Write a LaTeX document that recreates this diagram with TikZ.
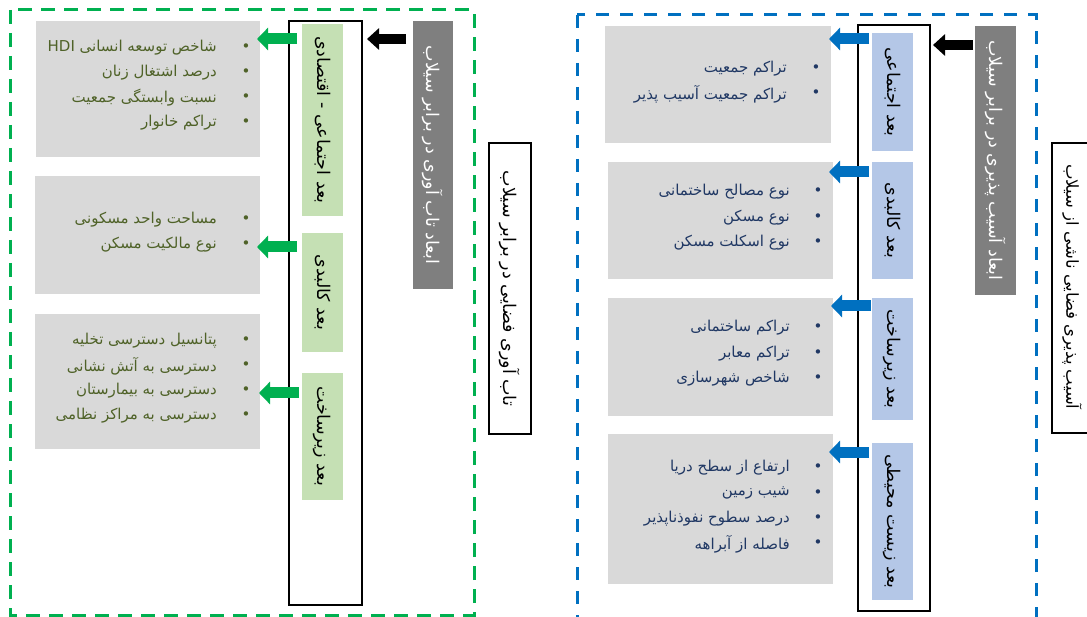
\documentclass[tikz,border=0pt]{standalone}
\usepackage{fontspec}
\usetikzlibrary{arrows.meta,fit}
\TeXXeTstate=1
\newfontfamily\arfont[Script=Arabic]{DejaVu Sans}
\newcommand{\fa}[1]{\beginR #1\endR}
\definecolor{dgreen}{HTML}{00B050}
\definecolor{dblue}{HTML}{0070C0}
\definecolor{boxgrey}{HTML}{D9D9D9}
\definecolor{titlegrey}{HTML}{7F7F7F}
\definecolor{lgreen}{HTML}{C5E0B4}
\definecolor{lblue}{HTML}{B4C7E7}
\definecolor{tgreen}{HTML}{4F6228}
\definecolor{tblue}{HTML}{203864}
\tikzset{
  txt/.style={font=\arfont\fontsize{15}{17}\selectfont, inner sep=0pt},
  item/.style={txt, anchor=east},
  bul/.style={txt, anchor=center},
  rotlab/.style={font=\arfont\fontsize{17.5}{20}\selectfont, inner sep=0pt, rotate=-90, anchor=center},
  contentbox/.style={fill=boxgrey, draw=none, inner sep=0pt},
  gbox/.style={fill=lgreen, draw=none, inner sep=0pt},
  bbox/.style={fill=lblue, draw=none, inner sep=0pt},
  titlebox/.style={fill=titlegrey, draw=none, inner sep=0pt},
  tallbox/.style={draw=black, line width=2pt, inner sep=0pt},
  mainbox/.style={draw=black, line width=1.2pt, inner sep=0pt},
  fatarrow/.style={line width=11pt, -{Triangle[length=11pt,width=22pt]}},
  garrow/.style={fatarrow, draw=dgreen},
  barrow/.style={fatarrow, draw=dblue},
  karrow/.style={fatarrow, draw=black, line width=10pt, -{Triangle[length=12pt,width=21pt]}},
  gdash/.style={draw=dgreen, line width=3pt, dash pattern=on 14pt off 9pt},
  bdash/.style={draw=dblue, line width=3pt, dash pattern=on 13pt off 11pt},
}
\begin{document}
\begin{tikzpicture}[x=1pt,y=-1pt]
\useasboundingbox (0,0) rectangle (1087,617);
\clip (0,0) rectangle (1087,617);

% ================= LEFT PANEL (resilience) =================
\draw[gdash] (10,10) rectangle (474,615);

\node[contentbox, fit={(36,21) (260,157)}] (lc1) {};
\node[contentbox, fit={(35,176) (260,294)}] (lc2) {};
\node[contentbox, fit={(35,314) (260,449)}] (lc3) {};

\node[tallbox, fit={(289,21) (362,605)}] (lt) {};
\node[gbox, fit={(302,24) (343,216)}] (lg1) {};
\node[gbox, fit={(302,233) (343,352)}] (lg2) {};
\node[gbox, fit={(302,373) (343,500)}] (lg3) {};
\node[rotlab] (lg1t) at (lg1.center) {\fa{بعد اجتماعی - اقتصادی}};
\node[rotlab] (lg2t) at (lg2.center) {\fa{بعد کالبدی}};
\node[rotlab] (lg3t) at (lg3.center) {\fa{بعد زیرساخت}};

\node[titlebox, fit={(413,21) (453,289)}] (ltitle) {};
\node[rotlab, text=white] (ltitlet) at (ltitle.center) {\fa{ابعاد تاب آوری در برابر سیلاب}};

\node[mainbox, fit={(489,143) (531,434)}] (lmain) {};
\node[rotlab] (lmaint) at (lmain.center) {\fa{تاب آوری فضایی در برابر سیلاب}};

\foreach \t [count=\i, evaluate=\i as \yy using 48+25*(\i-1)] in
  {{شاخص توسعه انسانی \beginL HDI\endL}, {درصد اشتغال زنان}, {نسبت وابستگی جمعیت}, {تراکم خانوار}} {
  \node[item, text=tgreen] (la\i) at (217,\yy) {\fa{\t}};
  \node[bul, text=tgreen] (lab\i) at (246,\yy) {•};
}
\foreach \t [count=\i, evaluate=\i as \yy using 220+25*(\i-1)] in
  {{مساحت واحد مسکونی}, {نوع مالکیت مسکن}} {
  \node[item, text=tgreen] (lb\i) at (217,\yy) {\fa{\t}};
  \node[bul, text=tgreen] (lbb\i) at (246,\yy) {•};
}
\foreach \t [count=\i, evaluate=\i as \yy using 341+25*(\i-1)] in
  {{پتانسیل دسترسی تخلیه}, {دسترسی به آتش نشانی}, {دسترسی به بیمارستان}, {دسترسی به مراکز نظامی}} {
  \node[item, text=tgreen] (lcc\i) at (217,\yy) {\fa{\t}};
  \node[bul, text=tgreen] (lcb\i) at (246,\yy) {•};
}

\coordinate (lk1) at (406,39); \coordinate (lk2) at (367,39);
\draw[karrow] (lk1) -- (lk2);
\coordinate (lg1s) at (297,39);  \coordinate (lg1e) at (257,39);
\coordinate (lg2s) at (297,247); \coordinate (lg2e) at (257,247);
\coordinate (lg3s) at (299,393); \coordinate (lg3e) at (259,393);
\draw[garrow] (lg1s) -- (lg1e);
\draw[garrow] (lg2s) -- (lg2e);
\draw[garrow] (lg3s) -- (lg3e);

% ================= RIGHT PANEL (vulnerability) =================
\draw[bdash] (577,15) rectangle (1036,640);

\node[contentbox, fit={(605,26) (831,143)}] (rc1) {};
\node[contentbox, fit={(608,162) (833,279)}] (rc2) {};
\node[contentbox, fit={(608,298) (833,416)}] (rc3) {};
\node[contentbox, fit={(608,434) (833,584)}] (rc4) {};

\node[tallbox, fit={(858,25) (930,611)}] (rt) {};
\node[bbox, fit={(872,33) (913,151)}] (rb1) {};
\node[bbox, fit={(872,162) (913,279)}] (rb2) {};
\node[bbox, fit={(872,298) (913,420)}] (rb3) {};
\node[bbox, fit={(872,443) (913,600)}] (rb4) {};
\node[rotlab] (rb1t) at (rb1.center) {\fa{بعد اجتماعی}};
\node[rotlab] (rb2t) at (rb2.center) {\fa{بعد کالبدی}};
\node[rotlab] (rb3t) at (rb3.center) {\fa{بعد زیرساخت}};
\node[rotlab] (rb4t) at (rb4.center) {\fa{بعد زیست محیطی}};

\node[titlebox, fit={(975,26) (1016,295)}] (rtitle) {};
\node[rotlab, text=white] (rtitlet) at (rtitle.center) {\fa{ابعاد آسیب پذیری در برابر سیلاب}};

\node[mainbox, fit={(1052,143) (1094,433)}] (rmain) {};
\node[rotlab, font=\arfont\fontsize{16.5}{19}\selectfont] (rmaint) at (1072,287) {\fa{آسیب پذیری فضایی ناشی از سیلاب}};

\foreach \t [count=\i, evaluate=\i as \yy using 69+25*(\i-1)] in
  {{تراکم جمعیت}, {تراکم جمعیت آسیب پذیر}} {
  \node[item, text=tblue] (ra\i) at (787,\yy) {\fa{\t}};
  \node[bul, text=tblue] (rab\i) at (816,\yy) {•};
}
\foreach \t [count=\i, evaluate=\i as \yy using 192+25.5*(\i-1)] in
  {{نوع مصالح ساختمانی}, {نوع مسکن}, {نوع اسکلت مسکن}} {
  \node[item, text=tblue] (rbi\i) at (790,\yy) {\fa{\t}};
  \node[bul, text=tblue] (rbb\i) at (818,\yy) {•};
}
\foreach \t [count=\i, evaluate=\i as \yy using 328+25.5*(\i-1)] in
  {{تراکم ساختمانی}, {تراکم معابر}, {شاخص شهرسازی}} {
  \node[item, text=tblue] (rci\i) at (790,\yy) {\fa{\t}};
  \node[bul, text=tblue] (rcb\i) at (818,\yy) {•};
}
\foreach \t [count=\i, evaluate=\i as \yy using 468+25.3*(\i-1)] in
  {{ارتفاع از سطح دریا}, {شیب زمین}, {درصد سطوح نفوذناپذیر}, {فاصله از آبراهه}} {
  \node[item, text=tblue] (rdi\i) at (790,\yy) {\fa{\t}};
  \node[bul, text=tblue] (rdb\i) at (818,\yy) {•};
}

\coordinate (rk1) at (973,45); \coordinate (rk2) at (933,45);
\draw[karrow] (rk1) -- (rk2);
\coordinate (rb1s) at (869,39);  \coordinate (rb1e) at (829,39);
\coordinate (rb2s) at (869,172); \coordinate (rb2e) at (829,172);
\coordinate (rb3s) at (871,306); \coordinate (rb3e) at (831,306);
\coordinate (rb4s) at (869,452); \coordinate (rb4e) at (829,452);
\draw[barrow] (rb1s) -- (rb1e);
\draw[barrow] (rb2s) -- (rb2e);
\draw[barrow] (rb3s) -- (rb3e);
\draw[barrow] (rb4s) -- (rb4e);
\end{tikzpicture}
\end{document}
